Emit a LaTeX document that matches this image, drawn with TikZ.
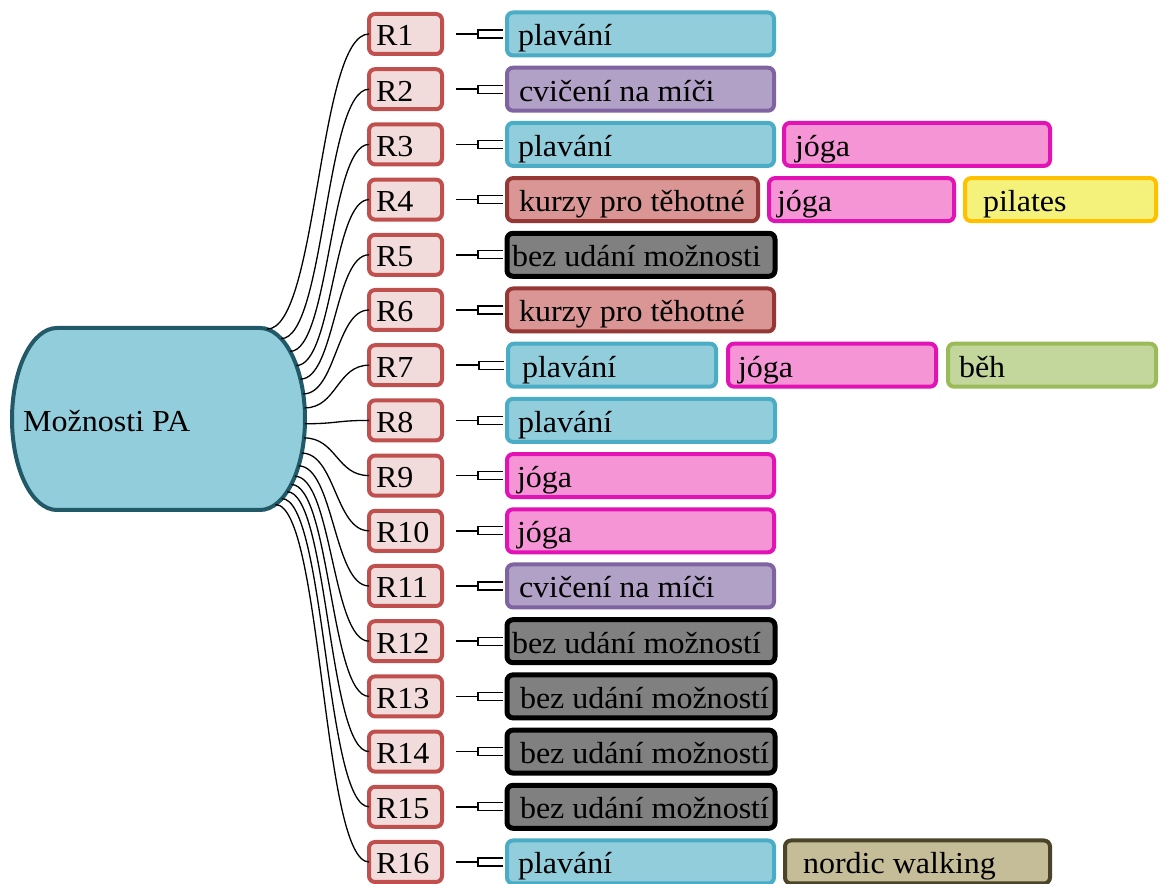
\documentclass[tikz,border=0pt]{standalone}
\usepackage{fontspec}
\setmainfont{Liberation Serif}[FakeStretch=1.05]
\usetikzlibrary{calc}
\definecolor{mainF}{HTML}{92CDDC}
\definecolor{mainB}{HTML}{215968}
\definecolor{rF}{HTML}{F2DCDB}
\definecolor{rB}{HTML}{C0504D}
\definecolor{swimF}{HTML}{92CDDC}
\definecolor{swimB}{HTML}{4BACC6}
\definecolor{ballF}{HTML}{B2A1C7}
\definecolor{ballB}{HTML}{8064A2}
\definecolor{yogaF}{HTML}{F595D5}
\definecolor{yogaB}{HTML}{E213B5}
\definecolor{courseF}{HTML}{D99694}
\definecolor{courseB}{HTML}{953735}
\definecolor{pilF}{HTML}{F4F27A}
\definecolor{pilB}{HTML}{FFC000}
\definecolor{noneF}{HTML}{808080}
\definecolor{runF}{HTML}{C3D69B}
\definecolor{runB}{HTML}{9BBB59}
\definecolor{nordF}{HTML}{C4BD97}
\definecolor{nordB}{HTML}{4A452A}
\tikzset{
  lbl/.style={font=\fontsize{30.5}{36}\selectfont},
  mainshape/.style={fill=mainF, draw=mainB, line width=4pt},
  rnode/.style={lbl, draw=rB, fill=rF, line width=4pt, rounded corners=6pt,
    minimum width=73pt, minimum height=40pt, inner xsep=7pt, inner ysep=0pt,
    text height=24pt, text depth=0pt, outer sep=0pt},
  obox/.style={lbl, line width=4pt, rounded corners=6pt, minimum height=43pt,
    inner ysep=0pt, text height=24pt, text depth=0pt, outer sep=0pt},
  cswim/.style={fill=swimF, draw=swimB},
  cball/.style={fill=ballF, draw=ballB},
  cyoga/.style={fill=yogaF, draw=yogaB},
  ccourse/.style={fill=courseF, draw=courseB},
  cpil/.style={fill=pilF, draw=pilB},
  cnone/.style={fill=noneF, draw=black, line width=5pt},
  crun/.style={fill=runF, draw=runB},
  cnord/.style={fill=nordF, draw=nordB},
  conn/.style={line width=1.3pt, black},
  link/.style={line width=1.5pt, black},
}
\newcommand\optnode[7]{%
  \pgfmathsetmacro\opw{#4-#3-4}%
  \pgfmathsetmacro\otw{#4-#3-2*#5}%
  \pgfmathsetmacro\oxs{#5-2}%
  \pgfmathsetmacro\oyy{850-(#6-1)*55.2}%
  \pgfmathsetmacro\oxx{(#3+#4)/2}%
  \node[obox,#2,minimum width=\opw pt,inner xsep=\oxs pt] (#1) at (\oxx,\oyy) {\makebox[\otw pt][l]{#7}};%
}
\begin{document}
\begin{tikzpicture}[x=1pt,y=1pt]
\useasboundingbox (0,0) rectangle (1160,884);
% main shape
\draw[mainshape] (57,556) -- (260,556) arc[start angle=90,end angle=-90,x radius=45,y radius=91]
  -- (57,374) arc[start angle=270,end angle=90,x radius=45,y radius=91] -- cycle;
\node[lbl, anchor=base west, inner sep=0pt] (main) at (23,452) {Možnosti PA};
\coordinate (rc) at (260,465);
% R nodes and curved connectors
\foreach \i/\a in {1/81,2/62,3/48,4/36,5/26,6/16,7/7,8/-3,9/-12,10/-22,11/-31,12/-39,13/-46,14/-53,15/-61,16/-70}{
  \pgfmathsetmacro\yy{850-(\i-1)*55.2}
  \node[rnode] (R\i) at (405.5,\yy) {\makebox[59pt][l]{R\i}};
  \coordinate (s\i) at ([shift={(\a:45pt and 91pt)}]rc);
  \draw[conn] let \p1=(s\i), \p2=(R\i.west) in
    (s\i) .. controls ({0.5*\x1+0.5*\x2},\y1) and ({0.5*\x1+0.5*\x2},\y2) .. (R\i.west);
}
% option boxes
\optnode{O1}{cswim}{505}{776}{13}{1}{plavání}
\optnode{O2}{cball}{505}{776}{14}{2}{cvičení na míči}
\optnode{O3}{cswim}{505}{776}{13}{3}{plavání}
\optnode{O3b}{cyoga}{782}{1052}{13}{3}{jóga}
\optnode{O4}{ccourse}{505}{760}{14}{4}{kurzy pro těhotné}
\optnode{O4b}{cyoga}{767}{956}{10}{4}{jóga}
\optnode{O4c}{cpil}{963}{1158}{20}{4}{pilates}
\optnode{O5}{cnone}{505}{777}{7}{5}{bez udání možnosti}
\optnode{O6}{ccourse}{505}{776}{14}{6}{kurzy pro těhotné}
\optnode{O7}{cswim}{506}{718}{16}{7}{plavání}
\optnode{O7b}{cyoga}{726}{938}{12}{7}{jóga}
\optnode{O7c}{crun}{946}{1158}{13}{7}{běh}
\optnode{O8}{cswim}{505}{777}{13}{8}{plavání}
\optnode{O9}{cyoga}{505}{776}{12}{9}{jóga}
\optnode{O10}{cyoga}{505}{776}{12}{10}{jóga}
\optnode{O11}{cball}{505}{776}{14}{11}{cvičení na míči}
\optnode{O12}{cnone}{505}{777}{7}{12}{bez udání možností}
\optnode{O13}{cnone}{505}{777}{15}{13}{bez udání možností}
\optnode{O14}{cnone}{505}{777}{15}{14}{bez udání možností}
\optnode{O15}{cnone}{505}{777}{15}{15}{bez udání možností}
\optnode{O16}{cswim}{505}{776}{13}{16}{plavání}
\optnode{O16b}{cnord}{783}{1052}{20}{16}{nordic walking}
% short links with bracket
\foreach \i in {1,...,16}{
  \draw[link] ([xshift=14pt]R\i.east) -- ([xshift=-29pt]O\i.west);
  \draw[conn] ([xshift=-4pt,yshift=4pt]O\i.west) -- ++(-25pt,0) -- ++(0,-8pt) -- ++(25pt,0);
}
\end{tikzpicture}
\end{document}
